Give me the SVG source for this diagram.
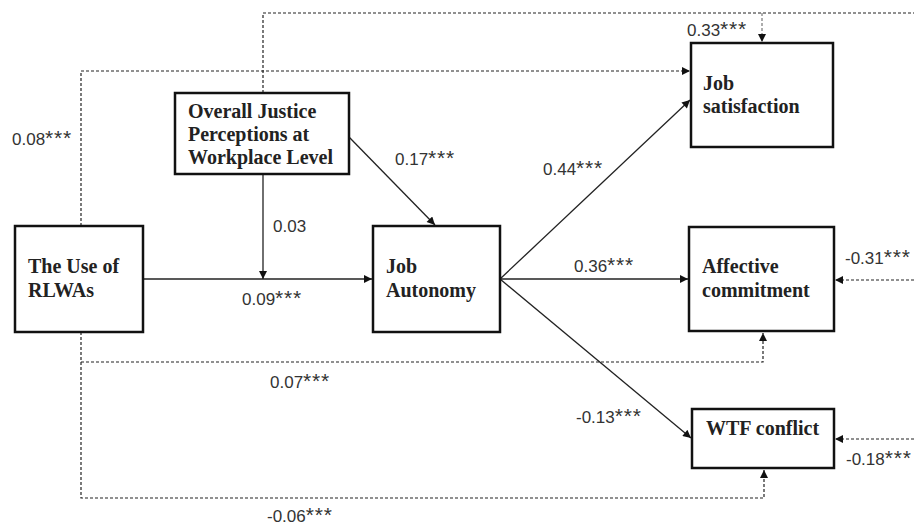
<svg xmlns="http://www.w3.org/2000/svg" width="914" height="525" viewBox="0 0 914 525">
<defs>
<marker id="ah" viewBox="0 0 10 10" refX="10" refY="5" markerWidth="9" markerHeight="8" markerUnits="userSpaceOnUse" orient="auto">
<path d="M0,0 L10,5 L0,10 Z" fill="#111"/>
</marker>
</defs>
<style>
.box{fill:#fff;stroke:#111;stroke-width:2.5}
.nt{font-family:"Liberation Serif","Times New Roman",serif;font-weight:bold;font-size:20px;fill:#222}
.lb{font-family:"Liberation Sans",Arial,sans-serif;font-size:17px;fill:#333}
.st{letter-spacing:0.8px;font-size:21px}
.sol{fill:none;stroke:#222;stroke-width:1.3}
.dsh{fill:none;stroke:#222;stroke-width:1.2;stroke-dasharray:3 2}
.gry{fill:none;stroke:#777;stroke-width:1.2;stroke-dasharray:3 2}
</style>
<rect width="914" height="525" fill="#fff"/>
<g id="connectors">
<path class="dsh" d="M263,93 V13 H914"/>
<path class="gry" d="M762,13 V42" marker-end="url(#ah)"/>
<path class="dsh" d="M81,226 V71 H690" marker-end="url(#ah)"/>
<path class="dsh" d="M81,332 V498 H764 V470" marker-end="url(#ah)"/>
<path class="dsh" d="M81,362 H763 V333" marker-end="url(#ah)"/>
<path class="dsh" d="M914,280 H835" marker-end="url(#ah)"/>
<path class="dsh" d="M914,439 H835" marker-end="url(#ah)"/>
<path class="sol" d="M143,279 H372" marker-end="url(#ah)"/>
<path class="sol" d="M263,174 V279" marker-end="url(#ah)"/>
<path class="sol" d="M349,137 L435,225" marker-end="url(#ah)"/>
<path class="sol" d="M500,279 L690,100" marker-end="url(#ah)"/>
<path class="sol" d="M500,279 H688" marker-end="url(#ah)"/>
<path class="sol" d="M500,279 L691,438" marker-end="url(#ah)"/>
</g>
<g id="justice">
<rect class="box" x="175" y="93" width="174" height="81"/>
<text class="nt" x="188" y="118">Overall Justice</text>
<text class="nt" x="188" y="141">Perceptions at</text>
<text class="nt" x="188" y="164">Workplace Level</text>
</g>
<g id="rlwas">
<rect class="box" x="15" y="226" width="128" height="106"/>
<text class="nt" x="28" y="273">The Use of</text>
<text class="nt" x="28" y="297">RLWAs</text>
</g>
<g id="autonomy">
<rect class="box" x="373" y="226" width="127" height="106"/>
<text class="nt" x="386" y="273">Job</text>
<text class="nt" x="386" y="297">Autonomy</text>
</g>
<g id="satisfaction">
<rect class="box" x="691" y="43" width="142" height="104"/>
<text class="nt" x="703" y="90">Job</text>
<text class="nt" x="703" y="113">satisfaction</text>
</g>
<g id="affective">
<rect class="box" x="689" y="227" width="145" height="104"/>
<text class="nt" x="702" y="273">Affective</text>
<text class="nt" x="702" y="297">commitment</text>
</g>
<g id="wtf">
<rect class="box" x="692" y="409" width="142" height="59"/>
<text class="nt" x="706" y="435">WTF conflict</text>
</g>
<g id="labels">
<text class="lb" x="12" y="145">0.08<tspan class="st">***</tspan></text>
<text class="lb" x="687" y="36">0.33<tspan class="st">***</tspan></text>
<text class="lb" x="395" y="165">0.17<tspan class="st">***</tspan></text>
<text class="lb" x="273" y="232">0.03</text>
<text class="lb" x="242" y="305">0.09<tspan class="st">***</tspan></text>
<text class="lb" x="543" y="175">0.44<tspan class="st">***</tspan></text>
<text class="lb" x="574" y="272">0.36<tspan class="st">***</tspan></text>
<text class="lb" x="845" y="264">-0.31<tspan class="st">***</tspan></text>
<text class="lb" x="270" y="388">0.07<tspan class="st">***</tspan></text>
<text class="lb" x="576" y="423">-0.13<tspan class="st">***</tspan></text>
<text class="lb" x="846" y="465">-0.18<tspan class="st">***</tspan></text>
<text class="lb" x="267" y="522">-0.06<tspan class="st">***</tspan></text>
</g>
</svg>
